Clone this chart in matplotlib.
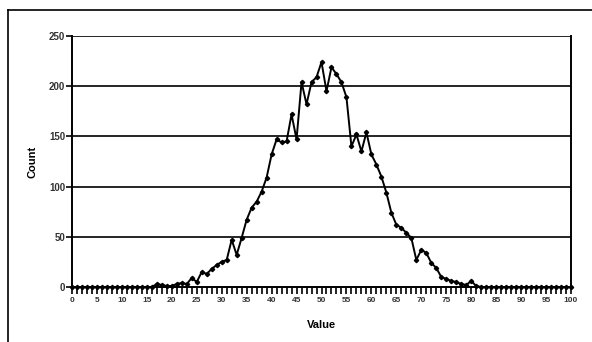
import matplotlib.pyplot as plt
from matplotlib.lines import Line2D
import numpy as np

# value bins 0..100
values = list(range(0, 101))
counts = [0, 0, 0, 0, 0, 0, 0, 0, 0, 0,
          0, 0, 0, 0, 0, 0, 0, 3, 2, 1,
          1, 3, 4, 3, 9, 5, 15, 13, 18, 22,
          25, 27, 47, 32, 49, 67, 79, 85, 95, 109,
          132, 147, 144, 145, 172, 147, 204, 182, 204, 209,
          224, 195, 219, 212, 204, 189, 140, 152, 135, 154,
          132, 122, 110, 94, 74, 62, 59, 54, 49, 27,
          37, 34, 24, 19, 10, 8, 6, 5, 3, 2,
          6, 1, 0, 0, 0, 0, 0, 0, 0, 0,
          0, 0, 0, 0, 0, 0, 0, 0, 0, 0, 0]
y_ticks = [0, 50, 100, 150, 200, 250]
x_labels = list(range(0, 101, 5))

plt.rcParams['font.family'] = ['Liberation Sans', 'DejaVu Sans']

fig = plt.figure(figsize=(5.92, 3.42), dpi=100)
ax = fig.add_axes([72/592, 55/342, 499/592, 251/342])

for yv in y_ticks[1:]:
    ax.axhline(yv, color='black', linewidth=1.2, zorder=1)

ax.plot(values, counts, color='black', linewidth=1.4, marker='D', markersize=2.2,
        clip_on=False, zorder=3)

ax.set_xlim(0, 100)
ax.set_ylim(0, 250)
ax.set_yticks(y_ticks)
ax.set_xticks(x_labels)
ax.set_xticks(values, minor=True)
ax.tick_params(axis='x', which='major', length=5, width=1.2, labelsize=6, pad=2)
ax.tick_params(axis='x', which='minor', length=5, width=1.2)
ax.tick_params(axis='y', length=4, width=1.2, labelsize=7, pad=1)
for lab in ax.get_xticklabels() + ax.get_yticklabels():
    lab.set_fontweight('bold')
    lab.set_color('#333333')

for s in ['left', 'right', 'bottom']:
    ax.spines[s].set_linewidth(1.4)
ax.spines['top'].set_visible(False)

ax.set_xlabel('Value', fontsize=8, fontweight='bold', labelpad=12)
ax.set_ylabel('Count', fontsize=8, fontweight='bold', labelpad=8)

# outer frame (left and top edges of a box)
fig.add_artist(Line2D([8/592, 8/592], [0, 1 - 10/342], color='black', linewidth=1.2))
fig.add_artist(Line2D([8/592, 1], [1 - 10/342, 1 - 10/342], color='black', linewidth=1.2))

fig.savefig('out.png', dpi=100)
